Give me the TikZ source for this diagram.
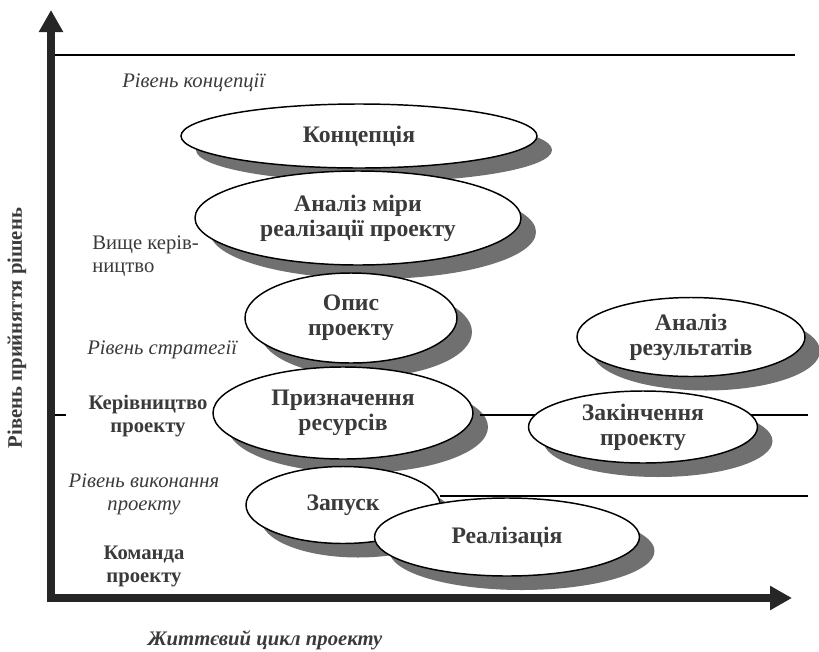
\documentclass[tikz,border=0pt]{standalone}
\usepackage{fontspec}
\setmainfont{Liberation Serif}
\usetikzlibrary{shapes.geometric,shadows,arrows.meta}
\definecolor{txt}{RGB}{58,58,58}
\definecolor{shd}{RGB}{112,112,112}
\definecolor{axc}{RGB}{38,38,38}
\begin{document}
\begin{tikzpicture}[x=0.75pt,y=-0.75pt,
  ell/.style={ellipse, draw=black, line width=1.1pt, fill=white, inner sep=0pt,
    align=center, text=txt, font=\fontsize{17.75}{18.75}\selectfont\bfseries,
    drop shadow={shadow xshift=11.25pt, shadow yshift=-10.5pt, fill=shd, opacity=1}},
  lbl/.style={inner sep=0pt, text=txt, font=\fontsize{15.5}{17.25}\selectfont},
  lblit/.style={lbl, font=\fontsize{15.5}{17.25}\selectfont\itshape},
  lblbf/.style={lbl, font=\fontsize{15.5}{17.25}\selectfont\bfseries},
  lvl/.style={line width=1.1pt, draw=black},
  axis/.style={line width=6pt, draw=axc, line join=miter,
    {Triangle[length=16.5pt,width=17.25pt]}-{Triangle[length=16.5pt,width=17.25pt]}}]
\useasboundingbox (0,0) rectangle (819,651);

% axes
\coordinate (ytip) at (51,10);
\coordinate (corner) at (51,598);
\coordinate (xtip) at (792,598);
\draw[axis] (ytip) -- (corner) -- (xtip);

% level lines
\coordinate (t0) at (55,55);
\coordinate (t1) at (795,55);
\draw[lvl] (t0) -- (t1);
\coordinate (k0) at (55,415);
\coordinate (k1) at (66,415);
\draw[lvl] (k0) -- (k1);

% ellipses
\node[ell, minimum width=267pt, minimum height=48pt] (konc) at (359,136) {Концепція};
\node[ell, minimum width=244.5pt, minimum height=70.5pt] (analiz) at (358,218) {Аналіз міри\\реалізації проекту};
\node[ell, minimum width=159pt, minimum height=67.5pt] (opys) at (351,318) {Опис\\проекту};
\node[ell, minimum width=195pt, minimum height=69pt] (pryzn) at (343,413) {Призначення\\ресурсів};
\coordinate (m0) at (480,415);
\coordinate (m1) at (808,415);
\draw[lvl] (m0) -- (m1);
\node[ell, minimum width=145.5pt, minimum height=57.75pt] (zapusk) at (343,505) {Запуск};
\coordinate (b0) at (440,496);
\coordinate (b1) at (808,496);
\draw[lvl] (b0) -- (b1);
\node[ell, minimum width=198.75pt, minimum height=58.5pt] (real) at (507,537) {Реалізація};
\node[ell, minimum width=171pt, minimum height=59.25pt] (anres) at (691,337) {Аналіз\\результатів};
\node[ell, minimum width=171.75pt, minimum height=54pt] (zakin) at (643,427) {Закінчення\\проекту};

% labels
\node[lblit, anchor=base west] (lkonc) at (122,87) {Рівень концепції};
\node[lbl, anchor=west, align=left] (lvyshche) at (92,256.5) {Вище керів-\\ництво};
\node[lblit, anchor=base west] (lstrat) at (87,354) {Рівень стратегії};
\node[lblbf, align=center] (lkerivn) at (148,416) {Керівництво\\проекту};
\node[lblit, align=center] (lvykon) at (144,494.5) {Рівень виконання\\проекту};
\node[lblbf, align=center] (lkomanda) at (144,566.5) {Команда\\проекту};
\node[lblbf, rotate=90] (lyaxis) at (17,328) {Рівень прийняття рішень};
\node[lbl, font=\fontsize{15.5}{17.25}\selectfont\bfseries\itshape, anchor=base] (lxaxis) at (265,645) {Життєвий цикл проекту};
\end{tikzpicture}
\end{document}
